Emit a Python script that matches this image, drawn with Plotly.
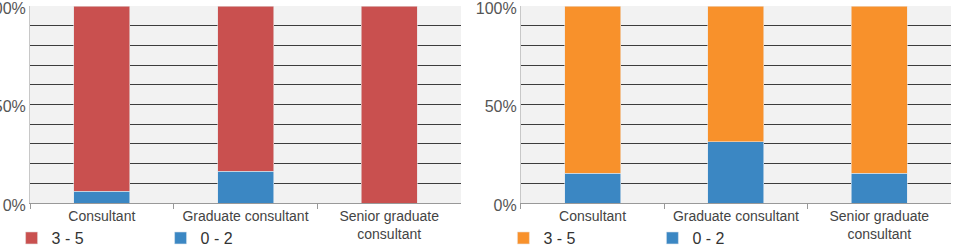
import plotly.graph_objects as go

categories = ["Consultant", "Graduate consultant", "Senior graduate<br>consultant"]
left_low = [6, 16, 0]        # 0 - 2
left_high = [94, 84, 100]    # 3 - 5
right_low = [15, 31, 15]
right_high = [85, 69, 85]
y_tickvals = list(range(0, 101, 10))
y_ticktext = ["0%", "", "", "", "", "50%", "", "", "", "", "100%"]

RED = "#C9504F"
BLUE = "#3B87C3"
ORANGE = "#F8912B"

fig = go.Figure()
fig.add_trace(go.Bar(x=categories, y=left_low, name="0 - 2", marker_color=BLUE,
                     marker_line=dict(color="#dde6ee", width=0.6),
                     xaxis="x", yaxis="y", legend="legend", legendrank=2))
fig.add_trace(go.Bar(x=categories, y=left_high, name="3 - 5", marker_color=RED,
                     marker_line=dict(color="#e6dcdc", width=0.6),
                     xaxis="x", yaxis="y", legend="legend", legendrank=1))
fig.add_trace(go.Bar(x=categories, y=right_low, name="0 - 2", marker_color=BLUE,
                     marker_line=dict(color="#dde6ee", width=0.6),
                     xaxis="x2", yaxis="y2", legend="legend2", legendrank=2))
fig.add_trace(go.Bar(x=categories, y=right_high, name="3 - 5", marker_color=ORANGE,
                     marker_line=dict(color="#eee3d8", width=0.6),
                     xaxis="x2", yaxis="y2", legend="legend2", legendrank=1))

font_family = "Liberation Sans, Arial, sans-serif"
xcommon = dict(type="category", tickson="boundaries", ticks="outside", ticklen=5,
               tickcolor="#999", showline=True, linecolor="#999", linewidth=1,
               showgrid=False, tickfont=dict(size=14, color="#444", family=font_family),
               fixedrange=True, automargin=False)
ycommon = dict(range=[0, 100], tickvals=y_tickvals, ticktext=y_ticktext,
               showgrid=True, gridcolor="#3d3d3d", gridwidth=1,
               showline=True, linecolor="#c8c8c8", linewidth=1, ticks="",
               zeroline=False, tickfont=dict(size=16, color="#555", family=font_family),
               fixedrange=True, automargin=False, ticklabeloverflow="allow",
               ticklabelshift=2)

legcommon = dict(orientation="h", entrywidth=104, entrywidthmode="pixels",
                 font=dict(size=16, color="#333", family=font_family),
                 yanchor="middle", y=-0.178, xanchor="left", bgcolor="rgba(0,0,0,0)",
                 traceorder="normal")

fig.update_layout(
    width=957, height=250,
    margin=dict(l=30, r=6, t=6, b=47, autoexpand=False),
    paper_bgcolor="white",
    plot_bgcolor="#F2F2F2",
    barmode="stack",
    bargap=0.61,
    showlegend=True,
    xaxis=dict(domain=[0, 0.468], anchor="y", **xcommon),
    yaxis=dict(anchor="x", **ycommon),
    xaxis2=dict(domain=[0.533, 1], anchor="y2", **xcommon),
    yaxis2=dict(anchor="x2", **ycommon),
    legend=dict(x=-0.020, **legcommon),
    legend2=dict(x=0.514, **legcommon),
    font=dict(family=font_family),
)

fig.write_html("out.html")
